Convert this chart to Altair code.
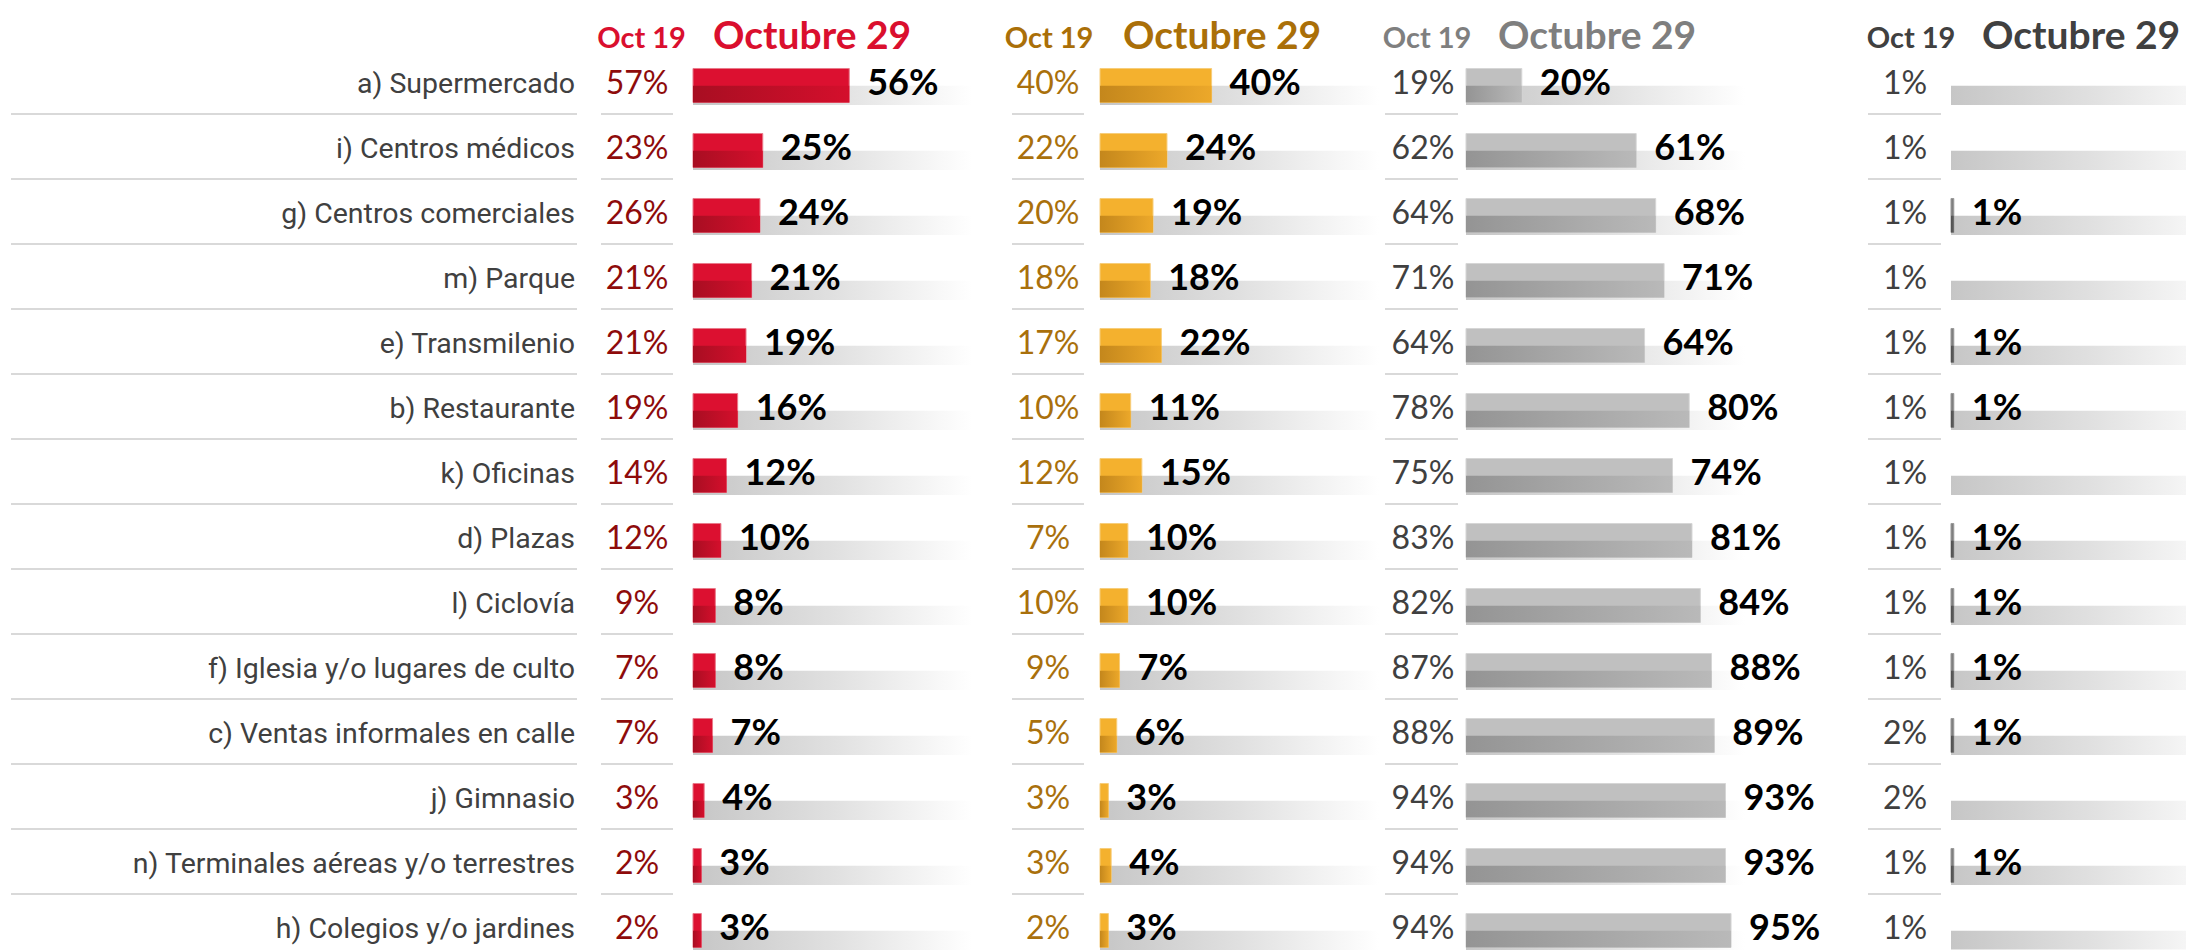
import altair as alt
import pandas as pd

labels = [
    "a) Supermercado", "i) Centros médicos", "g) Centros comerciales", "m) Parque",
    "e) Transmilenio", "b) Restaurante", "k) Oficinas", "d) Plazas", "l) Ciclovía",
    "f) Iglesia y/o lugares de culto", "c) Ventas informales en calle", "j) Gimnasio",
    "n) Terminales aéreas y/o terrestres", "h) Colegios y/o jardines",
]
red_oct19 = [57, 23, 26, 21, 21, 19, 14, 12, 9, 7, 7, 3, 2, 2]
red_oct29 = [56, 25, 24, 21, 19, 16, 12, 10, 8, 8, 7, 4, 3, 3]
gold_oct19 = [40, 22, 20, 18, 17, 10, 12, 7, 10, 9, 5, 3, 3, 2]
gold_oct29 = [40, 24, 19, 18, 22, 11, 15, 10, 10, 7, 6, 3, 4, 3]
gray_oct19 = [19, 62, 64, 71, 64, 78, 75, 83, 82, 87, 88, 94, 94, 94]
gray_oct29 = [20, 61, 68, 71, 64, 80, 74, 81, 84, 88, 89, 93, 93, 95]
dark_oct19 = [1, 1, 1, 1, 1, 1, 1, 1, 1, 1, 2, 2, 1, 1]
dark_oct29 = [None, None, 1, None, 1, 1, None, 1, 1, 1, 1, None, 1, None]

head_old = "Oct 19"
head_new = "Octubre 29"

df = pd.DataFrame({
    "idx": list(range(len(labels))), "label": labels,
    "r19": red_oct19, "r29": red_oct29,
    "g19": gold_oct19, "g29": gold_oct29,
    "s19": gray_oct19, "s29": gray_oct29,
    "k19": dark_oct19, "k29": dark_oct29,
})

STEP = 65.0
PAD = 0.32
H = round(STEP * (len(labels) - 1 + 2 * PAD), 1)
SEP = "#D9D9D9"
FONT_NUM = "Lato"


def yenc():
    return alt.Y("label:N", scale=alt.Scale(type="point", padding=PAD, domain=labels), axis=None)


def grad(stops):
    return {"gradient": "linear", "x1": 0, "x2": 1, "y1": 0, "y2": 0,
            "stops": [{"offset": o, "color": c} for o, c in stops]}


def sep_rule(x0, x1):
    return (alt.Chart(df).transform_filter(f"datum.idx < {len(labels) - 1}")
            .mark_rule(color=SEP, strokeWidth=2, yOffset=30.3)
            .encode(y=yenc(), x=alt.value(x0), x2=alt.value(x1)))


# labels panel
W0 = 565
lab_text = alt.Chart(df).mark_text(align="right", baseline="middle", font="Roboto",
                                   fontSize=28.5, color="#404040").encode(
    y=yenc(), x=alt.value(W0 + 2), text="label:N")
p0 = alt.layer(sep_rule(3, W0 + 4), lab_text).properties(width=W0, height=H)


def old_panel(field, color, tcolor, w, s0, s1, center, tdx):
    txt = (alt.Chart(df).transform_calculate(t=f"datum.{field} + '%'")
           .mark_text(align="center", baseline="middle", font=FONT_NUM, fontSize=32, color=color)
           .encode(y=yenc(), x=alt.value(center), text="t:N"))
    return alt.layer(sep_rule(s0, s1), txt).properties(
        width=w, height=H,
        title=alt.TitleParams(head_old, anchor="middle", dx=tdx, font=FONT_NUM, fontSize=29,
                              fontWeight="bold", color=tcolor, offset=-13.8,
                              baseline="alphabetic", frame="group"))


def new_panel(field, top_color, bot_stops, edge, tcolor, w, tdx, clip=False):
    xs = alt.Scale(domain=[0, 100], range=[0, 279])
    bg = alt.Chart(df).mark_bar(
        height=19.3, yOffset=11.6, clip=clip,
        color=grad([(0, "#C6C6C6"), (0.5, "#E0E0E0"), (1, "#FFFFFF")])).encode(
        y=yenc(),
        x=alt.XDatum(0, type="quantitative", scale=xs, axis=None),
        x2=alt.X2Datum(100))
    valid = alt.Chart(df).transform_filter(f"isValid(datum.{field})")
    X = alt.X(f"{field}:Q", scale=xs, axis=None)
    top = valid.mark_bar(height=34, yOffset=1.7, color=top_color, stroke=edge,
                         strokeWidth=1).encode(y=yenc(), x=X)
    bot = valid.mark_bar(height=16.7, yOffset=10.3, color=grad(bot_stops)).encode(y=yenc(), x=X)
    txt = (valid.transform_calculate(t=f"datum.{field} + '%'")
           .mark_text(align="left", baseline="middle", dx=18, font=FONT_NUM, fontWeight="bold",
                      fontSize=36, color="#000000")
           .encode(y=yenc(), x=X, text="t:N"))
    return alt.layer(bg, top, bot, txt).properties(
        width=w, height=H,
        title=alt.TitleParams(head_new, anchor="start", dx=tdx, font=FONT_NUM, fontSize=39,
                              fontWeight="bold", color=tcolor, offset=-24.7,
                              baseline="alphabetic", frame="group"))


p1 = old_panel("r19", "#8E0B0B", "#DA0F2E", 120, 28, 100, 64, 8.5)
p2 = new_panel("r29", "#DC1030", [(0, "#A80E22"), (1, "#D40F2C")], "#E9798A", "#DA0F2E", 319, 20)
p3 = old_panel("g19", "#A9700C", "#AA6F08", 88, 0, 72, 36, -7)
p4 = new_panel("g29", "#F4B12E", [(0, "#C4871C"), (1, "#ECA82A")], "#F7CD7A", "#AA6F08", 285, 23)
p5 = old_panel("s19", "#404040", "#7F7F7F", 81, 0, 73, 38, 1.5)
p6 = new_panel("s29", "#C0C0C0", [(0, "#949494"), (1, "#B9B9B9")], "#D6D6D6", "#7F7F7F", 402, 32)
p7 = old_panel("k19", "#404040", "#404040", 83, 0, 73, 37, 1.5)
p8 = new_panel("k29", "#7F7F7F", [(0, "#505050"), (1, "#606060")], "#9A9A9A", "#404040", 235, 31, clip=True)

chart = (alt.hconcat(p0, p1, p2, p3, p4, p5, p6, p7, p8, spacing=0, bounds="flush")
         .configure_view(stroke=None)
         .properties(padding={"left": 0, "right": 0, "top": 9, "bottom": 0}, background="white"))

chart.save("out.html", embed_options={"renderer": "svg", "actions": False})
